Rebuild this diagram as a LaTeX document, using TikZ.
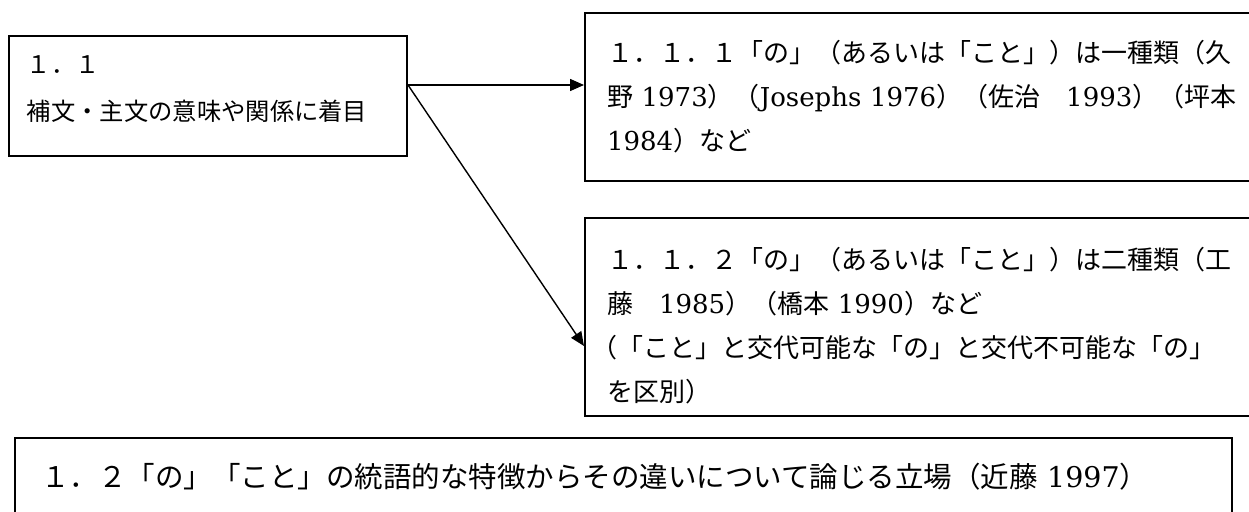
\documentclass[tikz,border=0pt]{standalone}
\usepackage{fontspec}
\setmainfont{DejaVu Serif}
\newfontfamily\jp{Noto Sans CJK JP}
\usetikzlibrary{arrows.meta}
\begin{document}
\begin{tikzpicture}[x=1pt,y=-1pt,
  box/.style={draw, line width=2pt, anchor=north west, align=left, inner ysep=0pt},
  conn/.style={line width=1.4pt, -{Triangle[length=14pt,width=12pt]}}]
\useasboundingbox (0,0) rectangle (1249,511);
\fill[white] (0,0) rectangle (1249,511);
% box 1.1
\node[box, minimum height=120pt, text width=362pt, inner xsep=18pt,
      font=\fontsize{24.3}{47}\selectfont] (a) at (8,35)
  {{\jp １．１}\\{\jp 補文・主文の意味や関係に着目}\rule[-15pt]{0pt}{0pt}};
% box 1.1.1
\node[box, minimum height=168pt, text width=640pt, inner xsep=22pt,
      font=\fontsize{26}{44}\selectfont] (b) at (584,12)
  {{\jp １．１．１「の」（あるいは「こと」）は一種類（久}\\
   {\jp 野} 1973{\jp ）（}Josephs 1976{\jp ）（佐治　}1993{\jp ）（坪本}\\
   1984{\jp ）など}};
% box 1.1.2
\node[box, minimum height=198pt, text width=640pt, inner xsep=22pt,
      font=\fontsize{26}{44}\selectfont] (c) at (584,217)
  {\rule{0pt}{39pt}{\jp １．１．２「の」（あるいは「こと」）は二種類（工}\\
   {\jp 藤　}1985{\jp ）（橋本} 1990{\jp ）など}\\
   \hspace*{-16pt}{\jp （「こと」と交代可能な「の」と交代不可能な「の」}\\
   {\jp を区別）}};
% box 1.2
\node[box, text width=1165pt, inner xsep=26pt, text height=49pt, text depth=40pt,
      font=\fontsize{28.5}{40}\selectfont] (d) at (14,437)
  {{\jp １．２「の」「こと」の統語的な特徴からその違いについて論じる立場（近藤} 1997{\jp ）}};
% connectors
\coordinate (s) at ([yshift=11pt]a.east);
\coordinate (t) at ([yshift=-29pt]c.west);
\draw[conn] (s) -- (s -| b.west);
\draw[conn] (s) -- (t);
\end{tikzpicture}
\end{document}
